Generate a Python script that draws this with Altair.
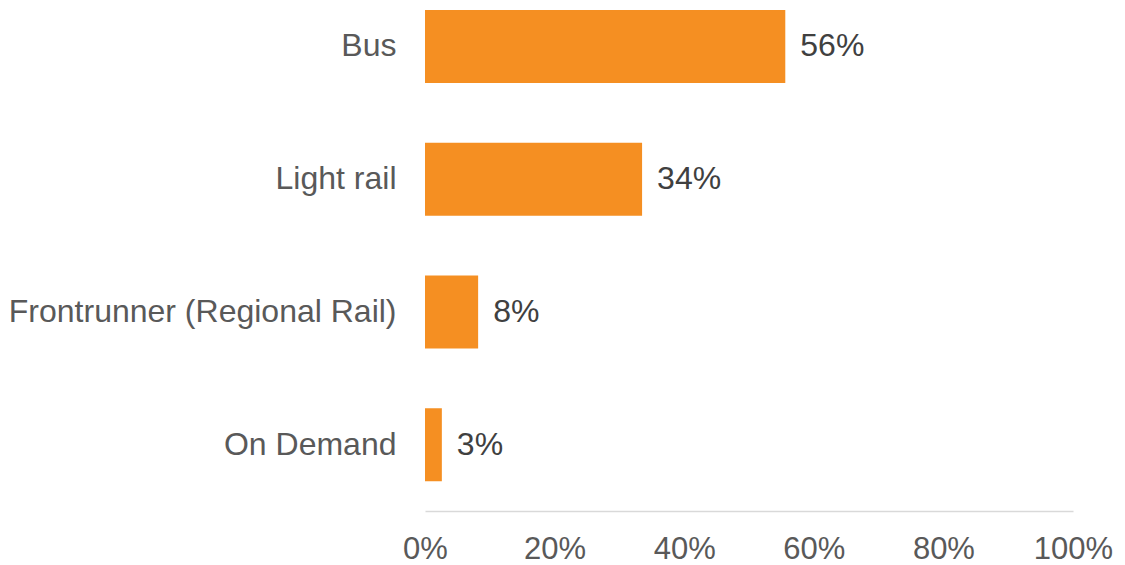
import altair as alt
import pandas as pd

categories = ["Bus", "Light rail", "Frontrunner (Regional Rail)", "On Demand"]
values = [0.556, 0.335, 0.082, 0.026]
labels = ["56%", "34%", "8%", "3%"]
ticks = [0, 0.2, 0.4, 0.6, 0.8, 1.0]

df = pd.DataFrame({"cat": categories, "val": values, "lab": labels})

y = alt.Y("cat:N", sort=categories, title=None,
          scale=alt.Scale(paddingInner=0.45, paddingOuter=0.149, align=0.25),
          axis=alt.Axis(domain=False, ticks=False, labelPadding=29, labelFontSize=32,
                        labelColor="#595959", labelFont="Liberation Sans", labelLimit=600))
x = alt.X("val:Q", title=None,
          scale=alt.Scale(domain=[0, 1], nice=False),
          axis=alt.Axis(values=ticks, format=".0%", grid=False, ticks=False,
                        domainColor="#d9d9d9", domainWidth=1.5, labelPadding=23,
                        labelFontSize=31, labelColor="#595959", labelFont="Liberation Sans",
                        labelFlush=False))

bars = alt.Chart(df).mark_bar(color="#F58F22").encode(x=x, y=y)
text = alt.Chart(df).mark_text(align="left", baseline="middle", dx=15, fontSize=32,
                               color="#404040", font="Liberation Sans").encode(
    x="val:Q", y=alt.Y("cat:N", sort=categories), text="lab:N")

chart = (bars + text).properties(
    width=648, height=511,
    background="white",
    autosize=alt.AutoSizeParams(type="none"),
    padding={"left": 425, "top": 0, "right": 52, "bottom": 54},
).configure_view(stroke=None, strokeWidth=0)

chart.save("out.html", embed_options={"renderer": "svg", "actions": False})
